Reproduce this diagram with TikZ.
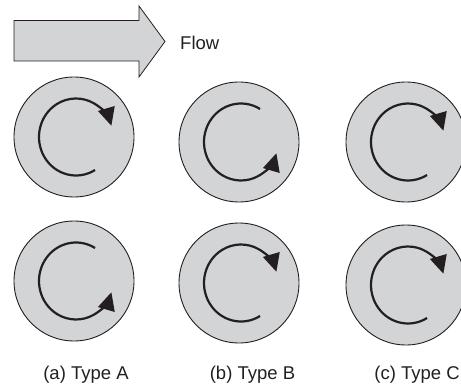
\documentclass[tikz,border=0pt]{standalone}
\usepackage{fontspec}
\setmainfont{Liberation Sans}
\usetikzlibrary{arrows.meta,calc}
\definecolor{discgray}{RGB}{211,212,214}
\definecolor{ink}{RGB}{35,31,32}
\begin{document}
\begin{tikzpicture}[x=1pt,y=-1pt,
  disc/.style={circle,draw=ink,line width=0.9pt,fill=discgray,minimum size=120pt,inner sep=0pt},
  spin/.style={draw=ink,line width=2.2pt,-{Triangle[length=18pt,width=17pt]}},
  flowarrow/.style={draw=ink,line width=0.8pt,fill=discgray,line join=miter},
  lbl/.style={anchor=base,font=\fontsize{18.5}{22}\selectfont,text=ink,inner sep=0pt}]
\useasboundingbox (0,0) rectangle (461,385);
\clip (0,0) rectangle (461,385);
% flow arrow
\draw[flowarrow] (14,20.5) -- (139,20.5) -- (139,6) -- (165,41.5) -- (139,77) -- (139,61) -- (14,61) -- cycle;
\node[lbl,anchor=base west] (flow) at (180,50) {Flow};
% discs
\node[disc] (a1) at (74,137) {};
\node[disc] (b1) at (239,142) {};
\node[disc] (c1) at (406,142) {};
\node[disc] (a2) at (74,281) {};
\node[disc] (b2) at (239,283) {};
\node[disc] (c2) at (406,285) {};
% clockwise (screen) arcs: arrow at upper right
\foreach \n in {a1,c1,b2,c2}{
  \draw[spin] ($(\n.center)+(2,0)+(59:37 and 38.5)$) arc[start angle=59,end angle=343,x radius=37,y radius=38.5];
}
% counter-clockwise (screen) arcs: arrow at lower right
\foreach \n in {b1,a2}{
  \draw[spin] ($(\n.center)+(2,0)+(-59:37 and 38.5)$) arc[start angle=-59,end angle=-343,x radius=37,y radius=38.5];
}
% labels
\node[lbl] (la) at (86,379) {(a) Type A};
\node[lbl] (lb) at (252.5,379) {(b) Type B};
\node[lbl] (lc) at (417,379) {(c) Type C};
\end{tikzpicture}
\end{document}
